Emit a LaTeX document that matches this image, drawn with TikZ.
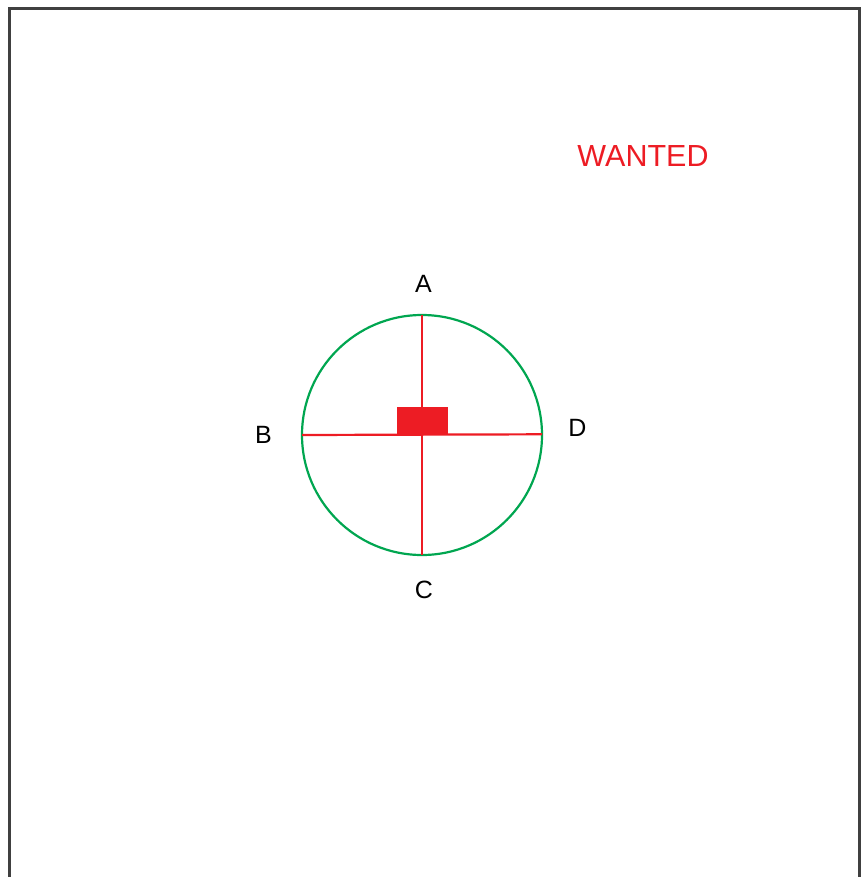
\documentclass[tikz,border=0pt]{standalone}
\usepackage{fontspec}
\setmainfont{Liberation Sans}
\definecolor{frame}{HTML}{404040}
\definecolor{cgreen}{HTML}{00A650}
\definecolor{cred}{HTML}{ED1C24}
\begin{document}
\begin{tikzpicture}[x=1pt,y=-1pt,
  lbl/.style={inner sep=0pt,anchor=base,font=\fontsize{25}{29}\selectfont},
  redline/.style={draw=cred,line width=2.2pt}]
\useasboundingbox (0,0) rectangle (862,877);
\draw[frame,line width=3pt] (9.5,885) -- (9.5,8.5) -- (859.5,8.5) -- (859.5,885);
\node[inner sep=0pt,anchor=base,text=cred,font=\fontsize{30.5}{35}\selectfont] (wanted) at (643,167) {WANTED};
\coordinate (O) at (422,435);
\node[circle,draw=cgreen,line width=2.2pt,minimum size=240pt,inner sep=0pt] (circ) at (O) {};
\coordinate (top) at (422,315);
\coordinate (bot) at (422,555);
\coordinate (lft) at (302,435);
\coordinate (rgt) at (542,434.3);
\draw[redline] (top) -- (bot);
\draw[redline] (lft) -- (rgt);
\fill[cred] (397,406.7) rectangle (448,434.5);
\node[lbl] (A) at (423.5,292) {A};
\node[lbl] (B) at (263.5,443) {B};
\node[lbl] (D) at (577.5,436) {D};
\node[lbl] (C) at (424,598.5) {C};
\end{tikzpicture}
\end{document}
